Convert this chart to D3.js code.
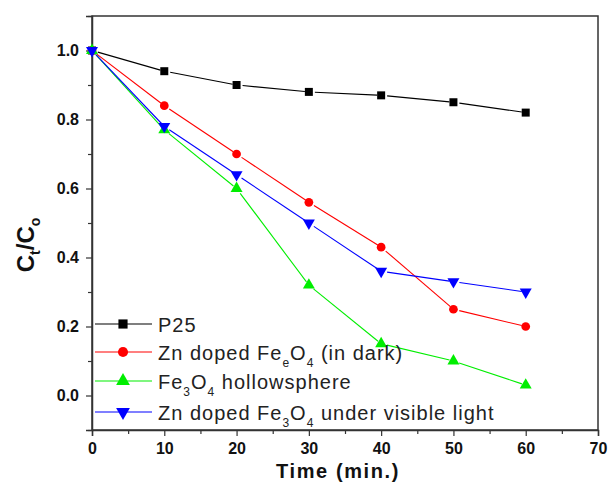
<!DOCTYPE html>
<html>
<head>
<meta charset="utf-8">
<script src="https://cdn.jsdelivr.net/npm/d3@7"></script>
<style>
  body { margin: 0; background: #fff; }
  svg { font-family: Arial, "Liberation Sans", sans-serif; }
</style>
</head>
<body>
<svg width="609" height="483"></svg>
<script>
(function (d3) {
    'use strict';

    // data
    const times = [0, 10, 20, 30, 40, 50, 60];
    const p25 = [1.0, 0.94, 0.90, 0.88, 0.87, 0.85, 0.82];
    const znDark = [1.0, 0.84, 0.70, 0.56, 0.43, 0.25, 0.20];
    const fe3o4Hollow = [1.0, 0.77, 0.60, 0.32, 0.15, 0.10, 0.03];
    const znVisible = [1.0, 0.78, 0.64, 0.50, 0.36, 0.33, 0.30];
    const xTicks = [0, 10, 20, 30, 40, 50, 60, 70];
    const yTicks = [0.0, 0.2, 0.4, 0.6, 0.8, 1.0];

    const series = [
        { values: p25, color: '#000000', symbol: d3.symbolSquare, size: 64, rot: 0,
          label: [['P25', '']] },
        { values: znDark, color: '#ff0000', symbol: d3.symbolCircle, size: 60, rot: 0,
          label: [['Zn doped Fe', ''], ['e', 'sub'], ['O', ''], ['4', 'sub'], [' (in dark)', '']] },
        { values: fe3o4Hollow, color: '#00ee00', symbol: d3.symbolTriangle, size: 62, rot: 0,
          label: [['Fe', ''], ['3', 'sub'], ['O', ''], ['4', 'sub'], [' hollowsphere', '']] },
        { values: znVisible, color: '#0000ff', symbol: d3.symbolTriangle, size: 62, rot: 180,
          label: [['Zn doped Fe', ''], ['3', 'sub'], ['O', ''], ['4', 'sub'], [' under visible light', '']] }
    ];

    const svg = d3.select('svg');
    const left = 92, right = 598, top = 16, bottom = 430;

    const x = d3.scaleLinear().domain([0, 70]).range([left, right]);
    const y = d3.scaleLinear().domain([-0.1, 1.1]).range([bottom, top]);

    // frame
    svg.append('rect')
        .attr('x', left).attr('y', top)
        .attr('width', right - left).attr('height', bottom - top)
        .attr('fill', 'none').attr('stroke', '#333').attr('stroke-width', 1.5);

    // axes
    svg.append('g').attr('transform', `translate(0,${bottom})`)
        .call(d3.axisBottom(x).tickValues(xTicks).tickFormat(d3.format('d')).tickSize(6).tickPadding(7));
    svg.append('g').attr('transform', `translate(0,${bottom})`)
        .call(d3.axisBottom(x).tickValues(d3.range(5, 70, 10)).tickFormat('').tickSize(4))
        .call(g => g.select('.domain').remove());

    svg.append('g').attr('transform', `translate(${left},0)`)
        .call(d3.axisLeft(y).tickValues(yTicks).tickFormat(d3.format('.1f')).tickSize(6).tickPadding(7));
    svg.append('g').attr('transform', `translate(${left},0)`)
        .call(d3.axisLeft(y).tickValues([-0.1, 0.1, 0.3, 0.5, 0.7, 0.9, 1.1]).tickFormat('').tickSize(4))
        .call(g => g.select('.domain').remove());

    svg.selectAll('.domain').attr('stroke', '#333').attr('stroke-width', 1.5);
    svg.selectAll('.tick line').attr('stroke', '#333').attr('stroke-width', 1.2);
    svg.selectAll('.tick text').attr('font-size', 16).attr('font-weight', 'bold').attr('fill', '#111')
        .attr('font-family', 'Arial, "Liberation Sans", sans-serif');

    // series: segments with small gaps around the markers
    const gap = 6;
    series.forEach(s => {
        const pts = times.map((t, i) => [x(t), y(s.values[i])]);
        const g = svg.append('g');
        for (let i = 0; i < pts.length - 1; i++) {
            const [x0, y0] = pts[i], [x1, y1] = pts[i + 1];
            const len = Math.hypot(x1 - x0, y1 - y0);
            const ux = (x1 - x0) / len, uy = (y1 - y0) / len;
            g.append('line')
                .attr('x1', x0 + ux * gap).attr('y1', y0 + uy * gap)
                .attr('x2', x1 - ux * 4).attr('y2', y1 - uy * 4)
                .attr('stroke', s.color).attr('stroke-width', 1.1);
        }
        g.selectAll('path').data(pts).enter().append('path')
            .attr('d', d3.symbol().type(s.symbol).size(s.size))
            .attr('transform', d => `translate(${d[0]},${d[1]}) rotate(${s.rot})`)
            .attr('fill', s.color);
    });

    // legend
    const legY = [324, 352, 381, 412];
    series.forEach((s, i) => {
        const g = svg.append('g').attr('transform', `translate(0,${legY[i]})`);
        g.append('line').attr('x1', 95).attr('x2', 152).attr('y1', 0).attr('y2', 0)
            .attr('stroke', s.color).attr('stroke-width', 1.2);
        g.append('path')
            .attr('d', d3.symbol().type(s.symbol).size(s.size + 20))
            .attr('transform', `translate(123,0) rotate(${s.rot})`)
            .attr('fill', s.color);
        const t = g.append('text').attr('x', 158).attr('y', 8)
            .attr('font-size', 20).attr('fill', '#222').attr('letter-spacing', 1);
        let wasSub = false;
        s.label.forEach(([txt, kind]) => {
            const sp = t.append('tspan').text(txt);
            if (kind === 'sub') {
                sp.attr('font-size', 12).attr('dy', 7);
                wasSub = true;
            } else if (wasSub) {
                sp.attr('dy', -7);
                wasSub = false;
            }
        });
    });

    // axis titles
    svg.append('text')
        .attr('x', 338).attr('y', 478)
        .attr('text-anchor', 'middle')
        .attr('font-size', 20).attr('font-weight', 'bold').attr('fill', '#111')
        .attr('letter-spacing', 1.6)
        .text('Time (min.)');

    const yl = svg.append('text')
        .attr('transform', 'translate(34,245) rotate(-90)')
        .attr('text-anchor', 'middle')
        .attr('font-size', 24).attr('font-weight', 'bold').attr('fill', '#111');
    yl.append('tspan').text('C');
    yl.append('tspan').text('t').attr('font-size', 14).attr('dy', 6);
    yl.append('tspan').text('/C').attr('dy', -6);
    yl.append('tspan').text('o').attr('font-size', 14).attr('dy', 6);
}(d3));
</script>
</body>
</html>
